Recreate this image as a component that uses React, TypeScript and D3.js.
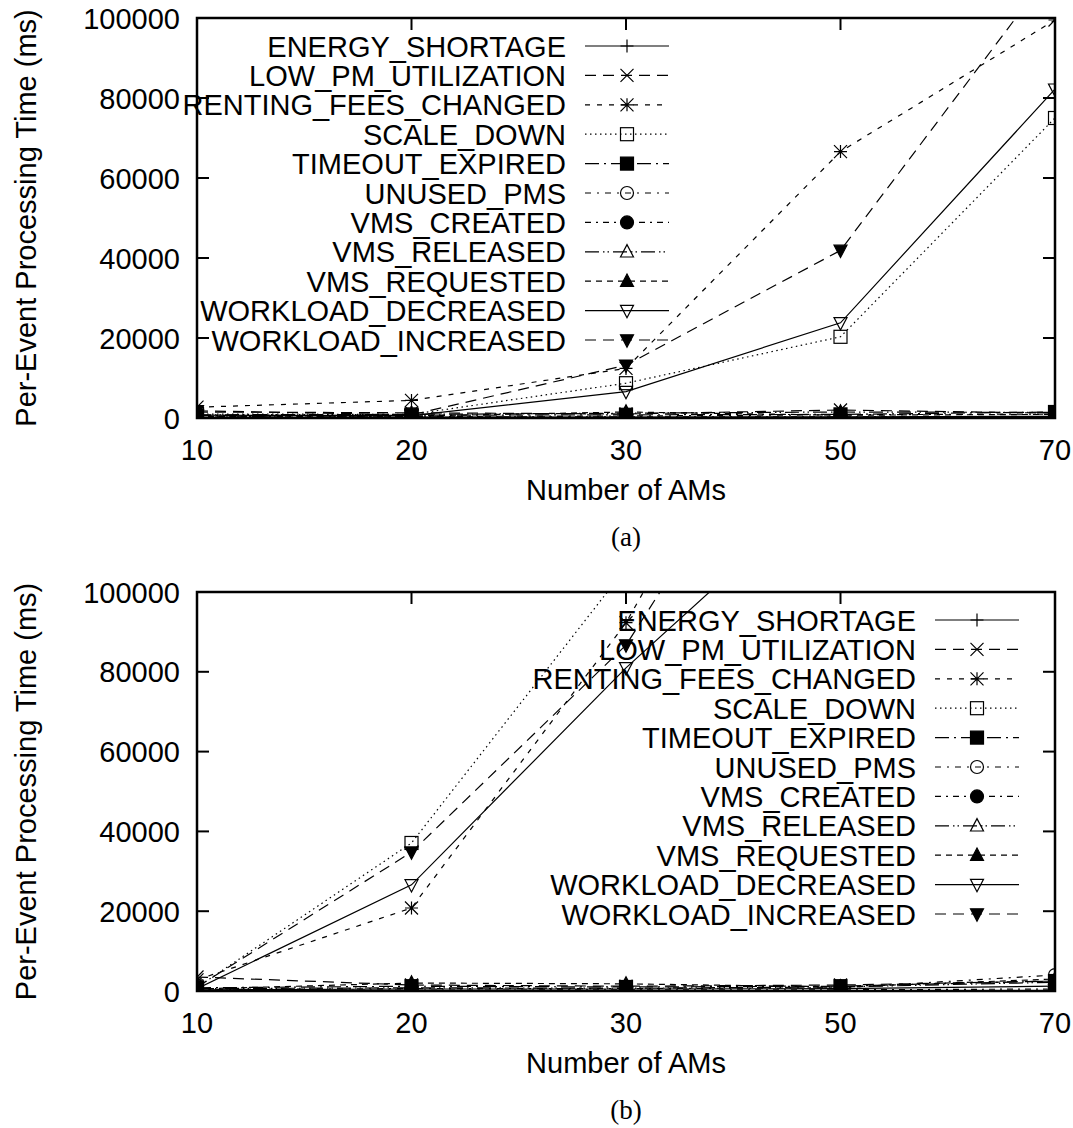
import React from 'react';
import * as d3 from 'd3';

// ---------- data ----------
const amCounts = [10, 20, 30, 50, 70];
const yTickValues = [0, 20000, 40000, 60000, 80000, 100000];
const seriesNames = [
  'ENERGY_SHORTAGE',
  'LOW_PM_UTILIZATION',
  'RENTING_FEES_CHANGED',
  'SCALE_DOWN',
  'TIMEOUT_EXPIRED',
  'UNUSED_PMS',
  'VMS_CREATED',
  'VMS_RELEASED',
  'VMS_REQUESTED',
  'WORKLOAD_DECREASED',
  'WORKLOAD_INCREASED',
];

// panel (a)
const energyShortageA = [150, 200, 250, 300, 400];
const lowPmUtilizationA = [1500, 1300, 1000, 2000, 1200];
const rentingFeesChangedA = [2700, 4400, 12400, 66600, 99500];
const scaleDownA = [1000, 900, 8700, 20300, 75000];
const timeoutExpiredA = [600, 700, 800, 900, 1500];
const unusedPmsA = [300, 400, 500, 800, 1000];
const vmsCreatedA = [200, 300, 300, 300, 200];
const vmsReleasedA = [800, 900, 1200, 1500, 1400];
const vmsRequestedA = [400, 500, 1500, 700, 900];
const workloadDecreasedA = [700, 600, 6600, 23800, 82200];
const workloadIncreasedA = [1800, 800, 13200, 41900, 113000];

// panel (b)
const energyShortageB = [300, 500, 500, 600, 1200];
const lowPmUtilizationB = [3500, 1500, 1200, 1500, 2500];
const rentingFeesChangedB = [2800, 20800, 92300, 187000, 380000];
const scaleDownB = [900, 37100, 106000, 230000, 450000];
const timeoutExpiredB = [800, 1200, 1000, 1200, 2500];
const unusedPmsB = [400, 600, 600, 800, 4000];
const vmsCreatedB = [200, 200, 300, 300, 500];
const vmsReleasedB = [600, 800, 700, 1000, 2200];
const vmsRequestedB = [500, 2000, 1800, 1000, 3000];
const workloadDecreasedB = [600, 26600, 81000, 129800, 260000];
const workloadIncreasedB = [1000, 34800, 86700, 170600, 340000];

const panelAValues = [
  energyShortageA, lowPmUtilizationA, rentingFeesChangedA, scaleDownA, timeoutExpiredA,
  unusedPmsA, vmsCreatedA, vmsReleasedA, vmsRequestedA, workloadDecreasedA, workloadIncreasedA,
];
const panelBValues = [
  energyShortageB, lowPmUtilizationB, rentingFeesChangedB, scaleDownB, timeoutExpiredB,
  unusedPmsB, vmsCreatedB, vmsReleasedB, vmsRequestedB, workloadDecreasedB, workloadIncreasedB,
];

// ---------- styles ----------
const dashes = [
  null,
  '11,7',
  '5,7',
  '1.5,3.5',
  '14,5,2,5',
  '6,6,2,6',
  '6,5,2,5',
  '14,4,1.5,3,1.5,4',
  '6,5',
  null,
  '11,7',
];
const markerTypes = [
  'plus', 'cross', 'star', 'square', 'squareF', 'circle', 'circleF', 'triUp', 'triUpF', 'triDown', 'triDownF',
];

const FONT = '"Liberation Sans", Arial, Helvetica, sans-serif';
const SERIF = '"Liberation Serif", "Times New Roman", Times, serif';
const X0 = 197;
const X1 = 1055;

function Marker({ cx, cy, type }: { cx: number; cy: number; type: string }) {
  const s = 6.5;
  const sw = 1.2;
  switch (type) {
    case 'plus':
      return <path d={`M${cx - s},${cy}H${cx + s}M${cx},${cy - s}V${cy + s}`} stroke="#000" strokeWidth={sw} fill="none" />;
    case 'cross':
      return <path d={`M${cx - s},${cy - s}L${cx + s},${cy + s}M${cx - s},${cy + s}L${cx + s},${cy - s}`} stroke="#000" strokeWidth={sw} fill="none" />;
    case 'star':
      return (
        <path
          d={`M${cx - s},${cy}H${cx + s}M${cx},${cy - s}V${cy + s}M${cx - s},${cy - s}L${cx + s},${cy + s}M${cx - s},${cy + s}L${cx + s},${cy - s}`}
          stroke="#000" strokeWidth={sw} fill="none" />
      );
    case 'square':
      return <rect x={cx - s} y={cy - s} width={2 * s} height={2 * s} stroke="#000" strokeWidth={sw} fill="none" />;
    case 'squareF':
      return <rect x={cx - s} y={cy - s} width={2 * s} height={2 * s} stroke="#000" strokeWidth={sw} fill="#000" />;
    case 'circle':
      return <circle cx={cx} cy={cy} r={s} stroke="#000" strokeWidth={sw} fill="none" />;
    case 'circleF':
      return <circle cx={cx} cy={cy} r={s} stroke="#000" strokeWidth={sw} fill="#000" />;
    case 'triUp':
    case 'triUpF':
      return (
        <path d={`M${cx},${cy - s * 1.1}L${cx - s},${cy + s * 0.8}L${cx + s},${cy + s * 0.8}Z`}
          stroke="#000" strokeWidth={sw} fill={type === 'triUpF' ? '#000' : 'none'} />
      );
    case 'triDown':
    case 'triDownF':
      return (
        <path d={`M${cx},${cy + s * 1.1}L${cx - s},${cy - s * 0.8}L${cx + s},${cy - s * 0.8}Z`}
          stroke="#000" strokeWidth={sw} fill={type === 'triDownF' ? '#000' : 'none'} />
      );
    default:
      return null;
  }
}

function Panel({ id, top, bottom, values, legendRight, caption }: {
  id: string; top: number; bottom: number; values: number[][]; legendRight: number; caption: string;
}) {
  const x = d3.scalePoint<string>().domain(amCounts.map(String)).range([X0, X1]);
  const y = d3.scaleLinear().domain([0, 100000]).range([bottom, top]);
  const line = d3
    .line<number>()
    .x((_, i) => x(String(amCounts[i])) as number)
    .y((d) => y(d));
  const midX = (X0 + X1) / 2;
  const midY = (top + bottom) / 2;
  const tick = 12;
  const rowH = 29.4;
  const legendTop = top + 28;
  const sampleX0 = legendRight + 19;
  const sampleX1 = legendRight + 103;

  return (
    <g>
      <defs>
        <clipPath id={`clip-${id}`}>
          <rect x={X0} y={top} width={X1 - X0} height={bottom - top} />
        </clipPath>
      </defs>

      {/* series */}
      <g clipPath={`url(#clip-${id})`}>
        {values.map((vals, si) => (
          <path key={si} d={line(vals) as string} fill="none" stroke="#000" strokeWidth={1.2}
            strokeDasharray={dashes[si] ?? undefined} />
        ))}
        {values.map((vals, si) =>
          vals.map((v, i) =>
            v <= 100000 ? (
              <Marker key={`${si}-${i}`} cx={x(String(amCounts[i])) as number} cy={y(v)} type={markerTypes[si]} />
            ) : null
          )
        )}
      </g>

      {/* legend */}
      {seriesNames.map((name, si) => {
        const cy = legendTop + si * rowH;
        return (
          <g key={name}>
            <text x={legendRight} y={cy + 10.5} textAnchor="end" fontFamily={FONT} fontSize={29}>{name}</text>
            <line x1={sampleX0} x2={sampleX1} y1={cy} y2={cy} stroke="#000" strokeWidth={1.2}
              strokeDasharray={dashes[si] ?? undefined} />
            <Marker cx={(sampleX0 + sampleX1) / 2} cy={cy} type={markerTypes[si]} />
          </g>
        );
      })}

      {/* ticks */}
      {yTickValues.map((t) => (
        <g key={t}>
          <line x1={X0} x2={X0 + tick} y1={y(t)} y2={y(t)} stroke="#000" strokeWidth={2} />
          <line x1={X1} x2={X1 - tick} y1={y(t)} y2={y(t)} stroke="#000" strokeWidth={2} />
          <text x={X0 - 17} y={y(t) + 10.5} textAnchor="end" fontFamily={FONT} fontSize={29}>{t}</text>
        </g>
      ))}
      {amCounts.map((c) => {
        const px = x(String(c)) as number;
        return (
          <g key={c}>
            <line x1={px} x2={px} y1={bottom} y2={bottom - tick} stroke="#000" strokeWidth={2} />
            <line x1={px} x2={px} y1={top} y2={top + tick} stroke="#000" strokeWidth={2} />
            <text x={px} y={bottom + 42} textAnchor="middle" fontFamily={FONT} fontSize={29}>{c}</text>
          </g>
        );
      })}

      {/* frame */}
      <rect x={X0} y={top} width={X1 - X0} height={bottom - top} fill="none" stroke="#000" strokeWidth={2.5} />

      {/* labels */}
      <text x={midX} y={bottom + 82} textAnchor="middle" fontFamily={FONT} fontSize={29}>Number of AMs</text>
      <text transform={`translate(36,${midY}) rotate(-90)`} textAnchor="middle" fontFamily={FONT} fontSize={29}>
        Per-Event Processing Time (ms)
      </text>
      <text x={midX} y={bottom + 128} textAnchor="middle" fontFamily={SERIF} fontSize={27}>{caption}</text>
    </g>
  );
}

export default function App() {
  return (
    <svg width={1073} height={1128} style={{ position: 'absolute', left: 0, top: 0, background: '#fff' }}>
      <rect width={1073} height={1128} fill="#fff" />
      <Panel id="a" top={18} bottom={418} values={panelAValues} legendRight={566} caption="(a)" />
      <Panel id="b" top={592} bottom={991} values={panelBValues} legendRight={916} caption="(b)" />
    </svg>
  );
}
